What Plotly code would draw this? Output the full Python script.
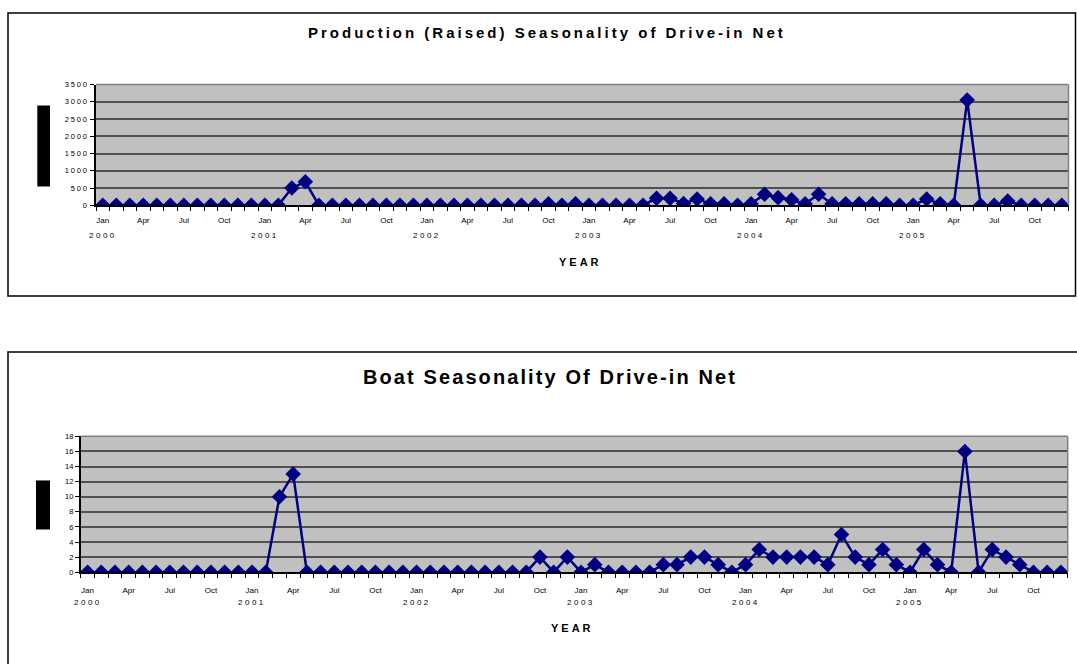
import plotly.graph_objects as go

# ---------------- data ----------------
years = [2000, 2001, 2002, 2003, 2004, 2005]
month_names = ["Jan", "Feb", "Mar", "Apr", "May", "Jun",
               "Jul", "Aug", "Sep", "Oct", "Nov", "Dec"]
label_months = ["Jan", "Apr", "Jul", "Oct"]

production_2000 = [0, 0, 0, 0, 0, 0, 0, 0, 0, 0, 0, 0]
production_2001 = [0, 0, 500, 680, 0, 0, 0, 0, 0, 0, 0, 0]
production_2002 = [0, 0, 0, 0, 0, 0, 0, 0, 0, 40, 0, 40]
production_2003 = [0, 0, 0, 0, 0, 200, 200, 50, 180, 40, 40, 0]
production_2004 = [40, 320, 220, 160, 40, 320, 40, 40, 40, 40, 40, 0]
production_2005 = [0, 180, 40, 0, 3050, 0, 0, 120, 0, 0, 0, 0]

boats_2000 = [0, 0, 0, 0, 0, 0, 0, 0, 0, 0, 0, 0]
boats_2001 = [0, 0, 10, 13, 0, 0, 0, 0, 0, 0, 0, 0]
boats_2002 = [0, 0, 0, 0, 0, 0, 0, 0, 0, 2, 0, 2]
boats_2003 = [0, 1, 0, 0, 0, 0, 1, 1, 2, 2, 1, 0]
boats_2004 = [1, 3, 2, 2, 2, 2, 1, 5, 2, 1, 3, 1]
boats_2005 = [0, 3, 1, 0, 16, 0, 3, 2, 1, 0, 0, 0]

production = (production_2000 + production_2001 + production_2002 +
              production_2003 + production_2004 + production_2005)
boats = boats_2000 + boats_2001 + boats_2002 + boats_2003 + boats_2004 + boats_2005

production_ticks = [0, 500, 1000, 1500, 2000, 2500, 3000, 3500]
boat_ticks = [0, 2, 4, 6, 8, 10, 12, 14, 16, 18]

title_top = "Production (Raised) Seasonality of Drive-in Net"
title_bottom = "Boat Seasonality Of Drive-in Net"
x_title = "YEAR"

# ---------------- helpers ----------------
W, H = 1077, 664


def fx(px):
    return px / W


def fy(py):
    return 1 - py / H


def spaced(text, ls):
    return '<span style="letter-spacing:%spx">%s</span>' % (ls, text)


periods = [(m, y) for y in years for m in month_names]
idx = list(range(len(periods)))
tickvals = [i for i, (m, y) in enumerate(periods) if m in label_months]
ticktext = [periods[i][0] for i in tickvals]
jan_idx = [i for i, (m, y) in enumerate(periods) if m == "Jan"]

NAVY = "#000080"
FONT = "Liberation Sans, Arial, sans-serif"

fig = go.Figure()
fig.add_trace(go.Scatter(x=idx, y=production, mode="lines+markers",
                         line=dict(color=NAVY, width=2.5),
                         marker=dict(symbol="diamond", size=12, color=NAVY),
                         xaxis="x", yaxis="y", showlegend=False))
fig.add_trace(go.Scatter(x=idx, y=boats, mode="lines+markers",
                         line=dict(color=NAVY, width=2.5),
                         marker=dict(symbol="diamond", size=12, color=NAVY),
                         xaxis="x2", yaxis="y2", showlegend=False))


def xaxis_cfg(domain, anchor, lab_len):
    return dict(domain=domain, anchor=anchor, range=[-0.5, len(idx) - 0.5],
                tickmode="array", tickvals=tickvals, ticktext=ticktext,
                ticks="outside", ticklen=lab_len, tickcolor="rgba(0,0,0,0)",
                tickfont=dict(size=8, color="black", family=FONT),
                showline=True, linecolor="black", linewidth=1.5,
                showgrid=False, zeroline=False, fixedrange=True,
                minor=dict(tickmode="linear", tick0=-0.5, dtick=1,
                           ticks="outside", ticklen=4, tickcolor="black",
                           tickwidth=1, showgrid=False))


def yaxis_cfg(domain, anchor, rng, vals, texts):
    return dict(domain=domain, anchor=anchor, range=rng,
                tickmode="array", tickvals=vals, ticktext=texts,
                ticks="outside", ticklen=4, tickcolor="black",
                tickfont=dict(size=7.5, color="black", family=FONT),
                showline=True, linecolor="black", linewidth=1.5,
                showgrid=True, gridcolor="#505050", gridwidth=1.5,
                zeroline=False, fixedrange=True)


# plot-area pixel boxes
top_box = dict(l=96, r=1068.5, t=81.7, b=204)
bot_box = dict(l=80.7, r=1067.7, t=438.3, b=576)

fig.update_layout(
    width=W, height=H, autosize=False,
    margin=dict(l=0, r=0, t=0, b=0),
    paper_bgcolor="white", plot_bgcolor="#C0C0C0",
    font=dict(family=FONT, color="black"),
    xaxis=xaxis_cfg([fx(top_box["l"]), fx(top_box["r"])], "y", 6),
    yaxis=yaxis_cfg([fy(top_box["b"]), fy(top_box["t"])], "x", [0, 3500],
                    production_ticks, [spaced(str(v), 1.8) for v in production_ticks]),
    xaxis2=xaxis_cfg([fx(bot_box["l"]), fx(bot_box["r"])], "y2", 9),
    yaxis2=yaxis_cfg([fy(bot_box["b"]), fy(bot_box["t"])], "x2", [0, 18],
                     boat_ticks, [str(v) for v in boat_ticks]),
)

shapes = []
# chart frames
shapes.append(dict(type="rect", xref="paper", yref="paper",
                   x0=fx(8), x1=fx(1075.5), y0=fy(296), y1=fy(9),
                   line=dict(color="black", width=1.5), fillcolor="rgba(0,0,0,0)"))
shapes.append(dict(type="rect", xref="paper", yref="paper",
                   x0=fx(8), x1=fx(1085), y0=fy(680), y1=fy(352.7),
                   line=dict(color="black", width=1.5), fillcolor="rgba(0,0,0,0)"))
# plot-area top/right borders (gray)
for box in (top_box, bot_box):
    shapes.append(dict(type="line", xref="paper", yref="paper",
                       x0=fx(box["l"]), x1=fx(box["r"]), y0=fy(box["t"]), y1=fy(box["t"]),
                       line=dict(color="#808080", width=1.5)))
    shapes.append(dict(type="line", xref="paper", yref="paper",
                       x0=fx(box["r"]), x1=fx(box["r"]), y0=fy(box["t"]), y1=fy(box["b"]),
                       line=dict(color="#808080", width=1.5)))
# black blocks where the y-axis titles sit
shapes.append(dict(type="rect", xref="paper", yref="paper",
                   x0=fx(37.3), x1=fx(50), y0=fy(185), y1=fy(103),
                   line=dict(width=0), fillcolor="black"))
shapes.append(dict(type="rect", xref="paper", yref="paper",
                   x0=fx(36), x1=fx(50), y0=fy(532.7), y1=fy(483),
                   line=dict(width=0), fillcolor="black"))

annotations = []
annotations.append(dict(text="<b>" + spaced(title_top, 3) + "</b>", xref="paper", yref="paper",
                        x=fx(547), y=fy(29), showarrow=False,
                        xanchor="center", yanchor="middle",
                        font=dict(size=15, family=FONT, color="black")))
annotations.append(dict(text="<b>" + spaced(title_bottom, 2.1) + "</b>", xref="paper", yref="paper",
                        x=fx(549.5), y=fy(378), showarrow=False,
                        xanchor="center", yanchor="middle",
                        font=dict(size=20, family=FONT, color="black")))
annotations.append(dict(text="<b>" + spaced(x_title, 3) + "</b>", xref="paper", yref="paper",
                        x=fx(580), y=fy(262), showarrow=False,
                        xanchor="center", yanchor="middle",
                        font=dict(size=11, family=FONT, color="black")))
annotations.append(dict(text="<b>" + spaced(x_title, 3) + "</b>", xref="paper", yref="paper",
                        x=fx(572.5), y=fy(633), showarrow=False,
                        xanchor="center", yanchor="middle",
                        font=dict(size=11, family=FONT, color="black")))
for i, yr in zip(jan_idx, years):
    annotations.append(dict(text=spaced(str(yr), 2.5), xref="x", yref="paper",
                            x=i, y=fy(235), showarrow=False,
                            xanchor="center", yanchor="middle",
                            font=dict(size=8, family=FONT, color="black")))
    annotations.append(dict(text=spaced(str(yr), 2.5), xref="x2", yref="paper",
                            x=i, y=fy(607), showarrow=False,
                            xanchor="center", yanchor="middle",
                            font=dict(size=8, family=FONT, color="black")))

fig.update_layout(shapes=shapes, annotations=annotations)

fig.write_html("out.html", config={"displayModeBar": False},
               post_script="document.body.style.margin='0';document.body.style.overflow='hidden';")
